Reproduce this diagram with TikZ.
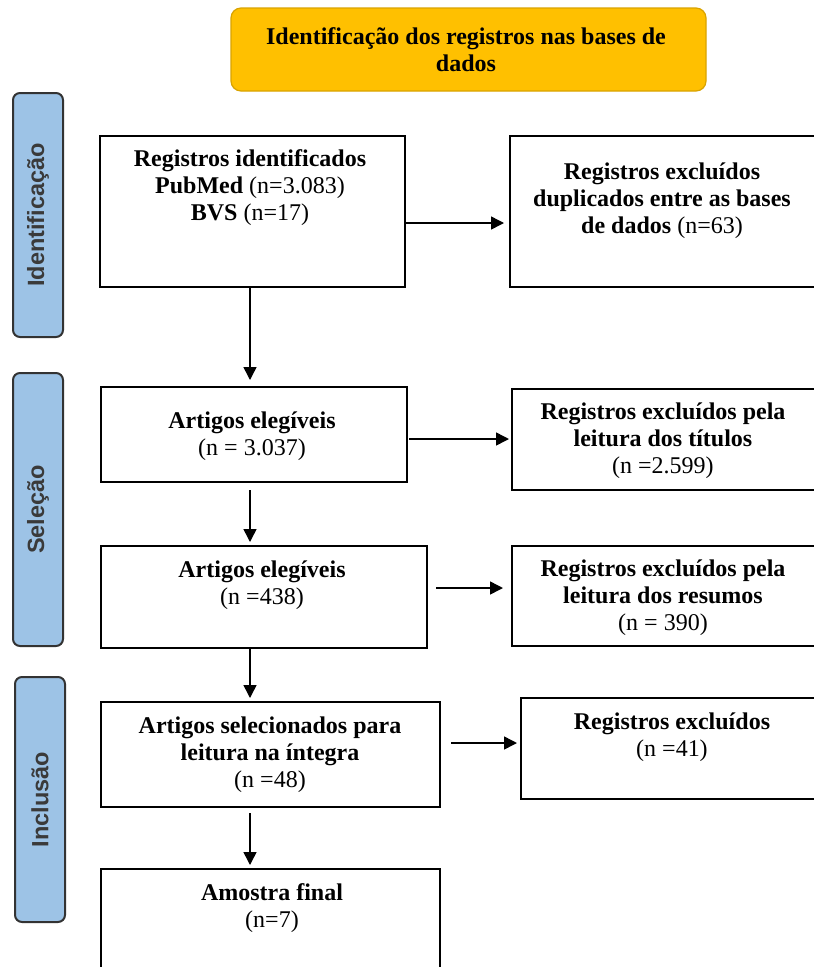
\documentclass[tikz,border=0pt]{standalone}
\usepackage{fontspec}
\setmainfont{Liberation Serif}
\newfontfamily\sidefont{Liberation Sans}
\usetikzlibrary{arrows.meta}
\definecolor{titlefill}{HTML}{FFC000}
\definecolor{titleline}{HTML}{D9A300}
\definecolor{sidefill}{HTML}{9DC3E6}
\definecolor{sideline}{HTML}{333333}
\definecolor{sidetext}{HTML}{3A3A3A}
\tikzset{
  bx/.style={draw=black, line width=1.6pt, fill=white, outer sep=0pt, inner sep=0pt},
  titlebox/.style={draw=titleline, line width=1.2pt, fill=titlefill, rounded corners=10pt, outer sep=0pt, inner sep=0pt},
  sidebox/.style={draw=sideline, line width=2pt, fill=sidefill, rounded corners=7pt, outer sep=0pt, inner sep=0pt},
  sidelabel/.style={font=\sidefont\bfseries\fontsize{23.5}{26}\selectfont, text=sidetext, rotate=90, inner sep=0pt},
  txt/.style={align=center, font=\fontsize{24}{27}\selectfont, inner sep=0pt},
  arr/.style={-{Triangle[length=13pt,width=13pt]}, line width=1.5pt, draw=black},
}
\begin{document}
\begin{tikzpicture}[x=1pt,y=-1pt]
\useasboundingbox (0,0) rectangle (814,967);
\clip (0,0) rectangle (814,967);
% title
\node[titlebox, minimum width=475pt, minimum height=83pt] (title) at (468.5,49.5) {};
\node[txt] (titletxt) at (466,50) {\textbf{Identificação dos registros nas bases de}\\\textbf{dados}};
% side labels
\node[sidebox, minimum width=50pt, minimum height=244pt] (sid) at (38,215) {};
\node[sidelabel] (sidt) at (sid.center) {Identificação};
\node[sidebox, minimum width=50pt, minimum height=273pt] (ssel) at (38,509.5) {};
\node[sidelabel] (sselt) at (ssel.center) {Seleção};
\node[sidebox, minimum width=50pt, minimum height=245pt] (sinc) at (40,799.5) {};
\node[sidelabel] (sinct) at (sinc.center) {Inclusão};
% boxes
\node[bx, minimum width=305pt, minimum height=151pt] (b1) at (252.5,211.5) {};
\node[txt] (t1) at (250,188) {\textbf{Registros identificados}\\\textbf{PubMed} (n=3.083)\\\textbf{BVS} (n=17)};
\node[bx, minimum width=310pt, minimum height=151pt] (b2) at (665,211.5) {};
\node[txt] (t2) at (662,201) {\textbf{Registros excluídos}\\\textbf{duplicados entre as bases}\\\textbf{de dados} (n=63)};
\node[bx, minimum width=306pt, minimum height=95pt] (b3) at (254,434.5) {};
\node[txt] (t3) at (252,436) {\textbf{Artigos elegíveis}\\(n = 3.037)};
\node[bx, minimum width=308pt, minimum height=101pt] (b4) at (666,439.5) {};
\node[txt] (t4) at (663,441) {\textbf{Registros excluídos pela}\\\textbf{leitura dos títulos}\\(n =2.599)};
\node[bx, minimum width=326pt, minimum height=102pt] (b5) at (264,597) {};
\node[txt] (t5) at (262,585) {\textbf{Artigos elegíveis}\\(n =438)};
\node[bx, minimum width=308pt, minimum height=100pt] (b6) at (666,596) {};
\node[txt] (t6) at (663,598) {\textbf{Registros excluídos pela}\\\textbf{leitura dos resumos}\\(n = 390)};
\node[bx, minimum width=339pt, minimum height=105pt] (b7) at (270.5,754.5) {};
\node[txt] (t7) at (270,755) {\textbf{Artigos selecionados para}\\\textbf{leitura na íntegra}\\(n =48)};
\node[bx, minimum width=299pt, minimum height=101pt] (b8) at (670.5,748.5) {};
\node[txt] (t8) at (672,737) {\textbf{Registros excluídos}\\(n =41)};
\node[bx, minimum width=339pt, minimum height=110pt] (b9) at (270.5,924) {};
\node[txt] (t9) at (272,908) {\textbf{Amostra final}\\(n=7)};
% vertical arrows
\draw[arr, shorten >=7pt] (b1.south -| 250,0) -- (b3.north -| 250,0);
\draw[arr, shorten <=8pt, shorten >=4pt] (b3.south -| 250,0) -- (b5.north -| 250,0);
\draw[arr, shorten >=4pt] (b5.south -| 250,0) -- (b7.north -| 250,0);
\draw[arr, shorten <=6pt, shorten >=4pt] (b7.south -| 250,0) -- (b9.north -| 250,0);
% horizontal arrows
\draw[arr, shorten >=6pt] ([yshift=-11.5pt]b1.east) -- ([yshift=-11.5pt]b1.east -| b2.west);
\draw[arr, shorten <=2pt, shorten >=3pt] ([yshift=-4.5pt]b3.east) -- ([yshift=-4.5pt]b3.east -| b4.west);
\draw[arr, shorten <=9pt, shorten >=9pt] ([yshift=9pt]b5.east) -- ([yshift=9pt]b5.east -| b6.west);
\draw[arr, shorten <=11pt, shorten >=4pt] ([yshift=11.5pt]b7.east) -- ([yshift=11.5pt]b7.east -| b8.west);
\end{tikzpicture}
\end{document}
